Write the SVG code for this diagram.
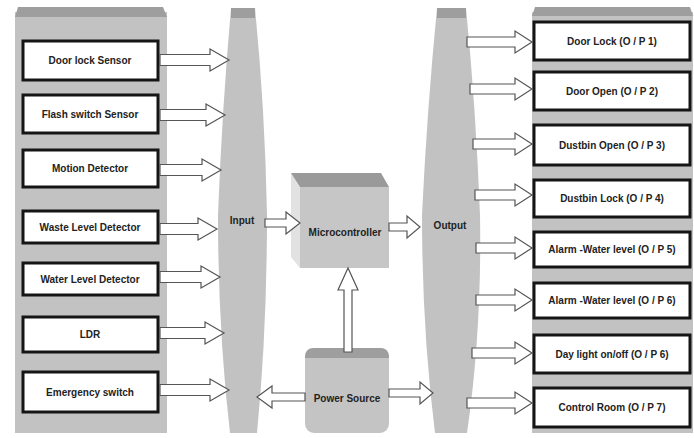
<svg xmlns="http://www.w3.org/2000/svg" width="694" height="438" viewBox="0 0 694 438">
<style>
.panel{fill:#c2c2c2}
.band{fill:#9e9e9e}
.box{fill:#ffffff;stroke:#151515;stroke-width:3}
.t{font-family:"Liberation Sans",Arial,sans-serif;font-weight:bold;font-size:10px;fill:#222;text-anchor:middle;dominant-baseline:central}
.arr{fill:#ffffff;stroke:#555;stroke-width:1.2;stroke-linejoin:miter}
</style>
<rect width="694" height="438" fill="#ffffff"/>
<g id="input-panel">
<rect class="panel" x="15" y="12" width="152" height="421"/>
<polygon class="band" points="18,7 163,7 167,17 15,17"/>
</g>
<g id="door-lock-sensor"><rect class="box" x="23" y="41" width="135" height="39"/><text class="t" x="90" y="60">Door lock Sensor</text></g>
<g id="flash-switch-sensor"><rect class="box" x="23" y="95" width="135" height="38"/><text class="t" x="90" y="114">Flash switch Sensor</text></g>
<g id="motion-detector"><rect class="box" x="23" y="150" width="135" height="37"/><text class="t" x="90" y="168">Motion Detector</text></g>
<g id="waste-level-detector"><rect class="box" x="23" y="211" width="135" height="32"/><text class="t" x="90" y="227">Waste Level Detector</text></g>
<g id="water-level-detector"><rect class="box" x="23" y="263" width="135" height="32"/><text class="t" x="90" y="279">Water Level Detector</text></g>
<g id="ldr"><rect class="box" x="23" y="317" width="135" height="35"/><text class="t" x="90" y="334">LDR</text></g>
<g id="emergency-switch"><rect class="box" x="23" y="372" width="135" height="40"/><text class="t" x="90" y="392">Emergency switch</text></g>
<g id="input">
<path class="panel" d="M231,8 L255,8 Q265,110 267,215 Q267,330 257,433 L230,433 Q218,330 218,215 Q222,110 231,8 Z"/>
<rect class="band" x="231" y="8" width="24" height="10"/>
<text class="t" x="242" y="220">Input</text>
</g>
<g id="output">
<path class="panel" d="M437,8 L466,8 Q476,110 480,215 Q482,330 467,433 L435,433 Q422,330 422,215 Q427,110 437,8 Z"/>
<rect class="band" x="437" y="8" width="29" height="10"/>
<text class="t" x="450" y="225">Output</text>
</g>
<g id="microcontroller">
<polygon fill="#e2e2e2" points="291,173 300,187 300,268 291,257"/>
<polygon fill="#9a9a9a" points="291,173 381,173 389,187 300,187"/>
<rect fill="#c6c6c6" x="300" y="187" width="89" height="81"/>
<text class="t" x="345" y="232">Microcontroller</text>
</g>
<g id="power-source">
<rect fill="#c4c4c4" x="305" y="348" width="84" height="85" rx="9"/>
<path fill="#9e9e9e" d="M305,358 L305,357 Q305,348 314,348 L380,348 Q389,348 389,357 L389,358 Z"/>
<text class="t" x="347" y="398">Power Source</text>
</g>
<g id="output-panel">
<rect class="panel" x="532" y="12" width="161" height="421"/>
<polygon class="band" points="535,7 690,7 693,16 532,16"/>
</g>
<g id="door-lock-op1"><rect class="box" x="534" y="22" width="156" height="38"/><text class="t" x="612" y="41">Door Lock (O / P 1)</text></g>
<g id="door-open-op2"><rect class="box" x="534" y="72" width="156" height="38"/><text class="t" x="612" y="91">Door Open (O / P 2)</text></g>
<g id="dustbin-open-op3"><rect class="box" x="534" y="125" width="156" height="40"/><text class="t" x="612" y="145">Dustbin Open (O / P 3)</text></g>
<g id="dustbin-lock-op4"><rect class="box" x="534" y="180" width="156" height="37"/><text class="t" x="612" y="198">Dustbin Lock (O / P 4)</text></g>
<g id="alarm-water-level-op5"><rect class="box" x="534" y="232" width="156" height="35"/><text class="t" x="612" y="249">Alarm -Water level (O / P 5)</text></g>
<g id="alarm-water-level-op6"><rect class="box" x="534" y="283" width="156" height="35"/><text class="t" x="612" y="300">Alarm -Water level (O / P 6)</text></g>
<g id="day-light-op6"><rect class="box" x="534" y="335" width="156" height="38"/><text class="t" x="612" y="354">Day light on/off (O / P 6)</text></g>
<g id="control-room-op7"><rect class="box" x="534" y="388" width="156" height="39"/><text class="t" x="612" y="407">Control Room (O / P 7)</text></g>
<g id="connectors">
<polygon class="arr" points="160,54.5 210,54.5 210,49 229,60 210,71 210,65.5 160,65.5"/>
<polygon class="arr" points="160,109.5 206,109.5 206,104 225,115 206,126 206,120.5 160,120.5"/>
<polygon class="arr" points="160,164.5 202,164.5 202,159 221,170 202,181 202,175.5 160,175.5"/>
<polygon class="arr" points="160,223.5 198,223.5 198,218 217,229 198,240 198,234.5 160,234.5"/>
<polygon class="arr" points="160,271.5 201,271.5 201,266 220,277 201,288 201,282.5 160,282.5"/>
<polygon class="arr" points="160,327.5 205,327.5 205,322 224,333 205,344 205,338.5 160,338.5"/>
<polygon class="arr" points="160,384.5 210,384.5 210,379 229,390 210,401 210,395.5 160,395.5"/>
<polygon class="arr" points="467,37 515,37 515,31 532,42 515,53 515,47 467,47"/>
<polygon class="arr" points="470,84 515,84 515,78 532,89 515,100 515,94 470,94"/>
<polygon class="arr" points="473,139 515,139 515,133 532,144 515,155 515,149 473,149"/>
<polygon class="arr" points="475,190 515,190 515,184 532,195 515,206 515,200 475,200"/>
<polygon class="arr" points="476,243 515,243 515,237 532,248 515,259 515,253 476,253"/>
<polygon class="arr" points="476,295 515,295 515,289 532,300 515,311 515,305 476,305"/>
<polygon class="arr" points="472,348 515,348 515,342 532,353 515,364 515,358 472,358"/>
<polygon class="arr" points="467,398 515,398 515,392 532,403 515,414 515,408 467,408"/>
<polygon class="arr" points="265,219 286,219 286,212 300,223 286,234 286,227 265,227"/>
<polygon class="arr" points="389,223 407,223 407,216 420,227 407,238 407,231 389,231"/>
<polygon class="arr" points="305,393 272,393 272,386 257,397 272,408 272,401 305,401"/>
<polygon class="arr" points="389,389 420,389 420,382 433,393 420,404 420,397 389,397"/>
<polygon class="arr" points="344,352 344,290 338,290 348,268 358,290 352,290 352,352"/>
</g>
</svg>
